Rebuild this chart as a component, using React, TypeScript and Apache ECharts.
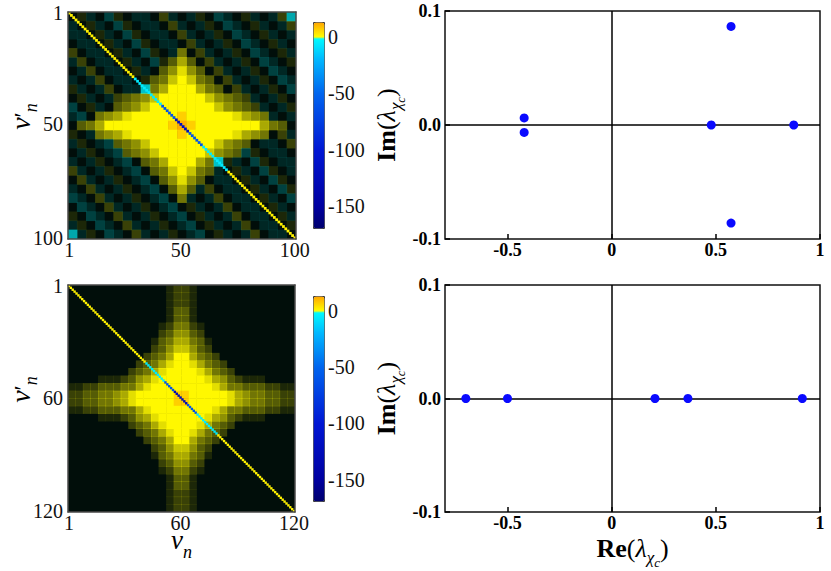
import React, { useEffect, useRef } from 'react';
import * as echarts from 'echarts';

const SERIF = 'Liberation Serif, DejaVu Serif, serif';

// ---------- Panel 1 (top-left heatmap, 100 x 100, read in 4x4 blocks) ----------
const P1_SIZE = 100;
const P1_TICKS = [1, 50, 100];
// '.' dark, '1'-'9' yellow of growing brightness, 'a'-'i' cyan of growing brightness,
// 'p' yellow-orange, 'o' orange
const P1_BLOCKS = [
  '.1a.b1.aa.2a.a1.ba.1a.a2f',
  'a.1a.b1.aa.2a.a1.ba.1a.a2',
  'aa.1a.b1.aa.2a.a1.ba.1a.a',
  '.aa.1a.b1.aa.2a.a1.ba.1a.',
  '2.aa.1a.b1.a4.2a.a1.ba.1a',
  'a2.aa.1a.b1363.2a.a1.ba.1',
  '.a2.aa.1a.35853.2a.a1.ba.',
  'a.a2.aa.13479743.2a.a1.ba',
  '1a.a2.aag46999643.2a.a1.b',
  '.1a.a234579999975432a.a1.',
  'b.1a.3457999999975432a.a1',
  'ab.456899999p999998654a.a',
  '.3469999999pop9999999643.',
  '1.a456899999p999998654.2a',
  'a1.ab345799999997543.aa.2',
  '.a1.ab3457999997543b1.aa.',
  'a.a1.ab.34699964g1a.b1.aa',
  '2a.a1.ab.3479743a.1a.b1.a',
  '.2a.a1.ab.35853.aa.1a.b1.',
  'a.2a.a1.ab.363a2.aa.1a.b1',
  'ba.2a.a1.ab.4a.a2.aa.1a.b',
  '.ba.2a.a1.ab.1a.a2.aa.1a.',
  '1.ba.2a.a1.ab.1a.a2.aa.1a',
  'a1.ba.2a.a1.ab.1a.a2.aa.1',
  'fa1.ba.2a.a1.ab.1a.a2.aa.',
];
// diagonal runs: [number of cells, value]
const P1_DIAGONAL: [number, number][] = [[29, 2], [12, -6], [6, -60], [6, -120], [6, -60], [11, -6], [30, 2]];

// ---------- Panel 2 (bottom-left heatmap, 120 x 120, read in 4x4 blocks) ----------
const P2_SIZE = 120;
const P2_TICKS = [1, 60, 120];
const P2_BLOCKS = [
  '.............1221.............',
  '.............1221.............',
  '.............1221.............',
  '.............1331.............',
  '.............1331.............',
  '............124421............',
  '............235532............',
  '...........13466431...........',
  '...........23577532...........',
  '..........2346996432..........',
  '.........234689986432.........',
  '........23468999986432........',
  '....1112356899999986532111....',
  '112233344689999999986443332211',
  '22334456899999pp99999865443322',
  '22334456899999pp99999865443322',
  '112233344689999999986443332211',
  '....1112356899999986532111....',
  '........23468999986432........',
  '.........234689986432.........',
  '..........2346996432..........',
  '...........23577532...........',
  '...........13466431...........',
  '............235532............',
  '............124421............',
  '.............1331.............',
  '.............1331.............',
  '.............1221.............',
  '.............1221.............',
  '.............1221.............',
];
const P2_DIAGONAL: [number, number][] = [[41, 2], [10, -6], [5, -60], [7, -130], [5, -60], [11, -6], [41, 2]];

// ---------- Panels 3 and 4 (eigenvalues) ----------
const P3_RE = [-0.42, -0.42, 0.478, 0.874, 0.573, 0.573];
const P3_IM = [0.0062, -0.0065, 0, 0, 0.0865, -0.086];
const P4_RE = [-0.7, -0.5, 0.208, 0.366, 0.915];
const P4_IM = [0, 0, 0, 0, 0];
const RE_TICKS = [-0.5, 0, 0.5, 1];
const IM_TICKS = [-0.1, 0, 0.1];

// ---------- Colour bar ----------
const CB_MIN = -169;
const CB_MAX = 13;
const CB_TICKS = [0, -50, -100, -150];
const CB_NEG: [number, string][] = [[-169, '#00006e'], [-150, '#0000a0'], [-100, '#0016d4'], [-50, '#0064ee'], [-20, '#00b6ff'], [-1, '#00fcff']];
const CB_POS: [number, string][] = [[0, '#ffff00'], [13, '#ffa500']];

function hex(h: string) {
  return [parseInt(h.slice(1, 3), 16), parseInt(h.slice(3, 5), 16), parseInt(h.slice(5, 7), 16)];
}
function interpStops(stops: [number, string][], v: number) {
  if (v <= stops[0][0]) return stops[0][1];
  for (let i = 0; i < stops.length - 1; i++) {
    const [v0, c0] = stops[i];
    const [v1, c1] = stops[i + 1];
    if (v <= v1) {
      const t = (v - v0) / (v1 - v0);
      const a = hex(c0), b = hex(c1);
      const m = a.map((x, k) => Math.round(x + (b[k] - x) * t));
      return `rgb(${m[0]},${m[1]},${m[2]})`;
    }
  }
  return stops[stops.length - 1][1];
}
const CB_COLORS: string[] = [];
for (let v = CB_MIN; v <= CB_MAX; v++) CB_COLORS.push(v < 0 ? interpStops(CB_NEG, v) : interpStops(CB_POS, v));

function decode(ch: string): [number, number] {
  if (ch >= '1' && ch <= '9') return [1, Number(ch)];
  if (ch >= 'a' && ch <= 'i') return [-3, ch.charCodeAt(0) - 96];
  if (ch === 'p') return [7, 9];
  if (ch === 'o') return [12, 9];
  return [1, 0];
}
function blockData(rows: string[]) {
  const out: number[][] = [];
  rows.forEach((row, r) => {
    for (let c = 0; c < row.length; c++) {
      const [v, l] = decode(row[c]);
      out.push([c, r, v, l]);
    }
  });
  return out;
}
function diagData(runs: [number, number][]) {
  const out: number[][] = [];
  let i = 0;
  runs.forEach(([n, v]) => {
    for (let k = 0; k < n; k++) {
      out.push([i, i, v]);
      i++;
    }
  });
  return out;
}

const LAMBDA_RICH = {
  b: { fontFamily: SERIF, fontSize: 26, fontWeight: 'bold', color: '#000', lineHeight: 28, padding: [0, 0, 8, 0], verticalAlign: 'bottom' },
  p: { fontFamily: SERIF, fontSize: 26, color: '#000', lineHeight: 28, padding: [0, 0, 8, 0], verticalAlign: 'bottom' },
  l: { fontFamily: SERIF, fontSize: 26, fontStyle: 'italic', color: '#000', lineHeight: 28, padding: [0, 0, 8, 0], verticalAlign: 'bottom' },
  s: { fontFamily: SERIF, fontSize: 17, fontStyle: 'italic', color: '#000', lineHeight: 18, padding: [0, 0, 3, 0], verticalAlign: 'bottom' },
  ss: { fontFamily: SERIF, fontSize: 13, fontStyle: 'italic', color: '#000', lineHeight: 14, verticalAlign: 'bottom' },
};
const NU_RICH = {
  nu: { fontFamily: SERIF, fontSize: 28, fontStyle: 'italic', color: '#000', lineHeight: 30, padding: [0, 0, 6, 18], verticalAlign: 'bottom' },
  nu0: { fontFamily: SERIF, fontSize: 27, fontStyle: 'italic', color: '#000', lineHeight: 24, padding: [0, 0, 8, 0], verticalAlign: 'bottom' },
  pr: { fontFamily: SERIF, fontSize: 24, color: '#000', lineHeight: 30, padding: [0, 0, 6, 0], verticalAlign: 'bottom' },
  n: { fontFamily: SERIF, fontSize: 18, fontStyle: 'italic', color: '#000', lineHeight: 20, verticalAlign: 'bottom' },
};
const LAMBDA_IM = '{b|Im}{p|(}{l|λ}{s|χ}{ss|c}{p|)}';
const LAMBDA_RE = '{b|Re}{p|(}{l|λ}{s|χ}{ss|c}{p|)}';

function heatAxes(gridIndex: number, size: number, blocks: number, ticks: number[], xName: boolean) {
  const fine = Array.from({ length: size }, (_, i) => String(i + 1));
  const coarse = Array.from({ length: blocks }, (_, i) => String(i));
  const idx = ticks.map((t) => t - 1);
  const frame = { show: true, lineStyle: { color: '#4a4a4a', width: 1.5 } };
  const label = { interval: (i: number) => idx.includes(i), fontFamily: SERIF, fontSize: 20, lineHeight: 14, color: '#111' };
  const x = [
    {
      type: 'category', gridIndex, data: fine, position: 'bottom', z: 10, axisLine: frame,
      axisTick: { show: false }, splitLine: { show: false }, axisLabel: { ...label, margin: 4 },
      name: xName ? '{nu0|ν}{n|n}' : '', nameLocation: 'middle', nameGap: 25, nameMoveOverlap: false,
      nameTextStyle: { rich: NU_RICH },
    },
    {
      type: 'category', gridIndex, data: coarse, position: 'top', z: 10, axisLine: frame,
      axisTick: { show: false }, axisLabel: { show: false }, splitLine: { show: false },
    },
  ];
  const y = [
    {
      type: 'category', gridIndex, data: fine, inverse: true, position: 'left', z: 10, axisLine: frame,
      axisTick: { show: false }, splitLine: { show: false }, axisLabel: { ...label, margin: 5 },
      name: '{nu|ν}{pr|′}{n|n}', nameLocation: 'middle', nameGap: 28, nameRotate: 90, nameMoveOverlap: false,
      nameTextStyle: { rich: NU_RICH },
    },
    {
      type: 'category', gridIndex, data: coarse, inverse: true, position: 'right', z: 10, axisLine: frame,
      axisTick: { show: false }, axisLabel: { show: false }, splitLine: { show: false },
    },
  ];
  return { x, y };
}

function scatterAxes(gridIndex: number, xName: boolean) {
  const tickStyle = { show: true, inside: true, length: 5, lineStyle: { color: '#000', width: 1.5 } };
  const lab = { fontFamily: SERIF, fontSize: 18, fontWeight: 'bold', color: '#000', lineHeight: 14 };
  const x = {
    type: 'value', gridIndex, min: -0.8, max: 1, axisLine: { show: false, onZero: false }, splitLine: { show: false },
    axisTick: { ...tickStyle, customValues: RE_TICKS },
    axisLabel: { ...lab, margin: 4, customValues: RE_TICKS, formatter: (v: number) => String(v) },
    name: xName ? LAMBDA_RE : '', nameLocation: 'middle', nameGap: 29, nameMoveOverlap: false,
    nameTextStyle: { rich: LAMBDA_RICH },
  };
  const y = {
    type: 'value', gridIndex, min: -0.1, max: 0.1, axisLine: { show: false, onZero: false }, splitLine: { show: false },
    axisTick: { ...tickStyle, customValues: IM_TICKS },
    axisLabel: { ...lab, margin: 4, customValues: IM_TICKS, formatter: (v: number) => v.toFixed(1) },
    name: LAMBDA_IM, nameLocation: 'middle', nameGap: 38, nameRotate: 90, nameMoveOverlap: false,
    nameTextStyle: { rich: LAMBDA_RICH },
  };
  return { x, y };
}

function cbAxes(gridIndex: number) {
  return {
    x: { type: 'value', gridIndex, show: false, min: 0, max: 1 },
    y: {
      type: 'value', gridIndex, min: CB_MIN, max: CB_MAX, position: 'right',
      axisLine: { show: false, onZero: false }, splitLine: { show: false },
      axisTick: { show: true, inside: true, length: 3, customValues: CB_TICKS, lineStyle: { color: '#222', width: 1 } },
      axisLabel: { customValues: CB_TICKS, fontFamily: SERIF, fontSize: 20, color: '#111', margin: 4 },
    },
  };
}

function buildOption() {
  const h1 = heatAxes(0, P1_SIZE, P1_BLOCKS.length, P1_TICKS, false);
  const h2 = heatAxes(1, P2_SIZE, P2_BLOCKS.length, P2_TICKS, true);
  const s3 = scatterAxes(2, false);
  const s4 = scatterAxes(3, true);
  const c1 = cbAxes(4);
  const c2 = cbAxes(5);
  const zeroLines = {
    silent: true, symbol: ['none', 'none'], z: 1, label: { show: false },
    lineStyle: { color: '#000', width: 1.5, type: 'solid' },
    data: [{ xAxis: 0 }, { yAxis: 0 }],
  };
  const heatBg = '#010e0a';
  return {
    animation: false,
    backgroundColor: '#fff',
    grid: [
      { left: 68, top: 12, width: 228, height: 227, show: true, backgroundColor: heatBg, borderWidth: 0, outerBoundsMode: 'none' },
      { left: 68, top: 285, width: 227, height: 227, show: true, backgroundColor: heatBg, borderWidth: 0, outerBoundsMode: 'none' },
      { left: 445, top: 11, width: 375, height: 228, show: true, borderColor: '#111', borderWidth: 1.5, outerBoundsMode: 'none' },
      { left: 445, top: 285, width: 375, height: 227, show: true, borderColor: '#111', borderWidth: 1.5, outerBoundsMode: 'none' },
      { left: 313, top: 22, width: 11, height: 206, outerBoundsMode: 'none' },
      { left: 313, top: 296, width: 11, height: 205, outerBoundsMode: 'none' },
    ],
    xAxis: [...h1.x, ...h2.x, s3.x, s4.x, c1.x, c2.x],
    yAxis: [...h1.y, ...h2.y, s3.y, s4.y, c1.y, c2.y],
    visualMap: [
      {
        type: 'continuous', min: CB_MIN, max: CB_MAX, dimension: 2, seriesIndex: [0, 1], calculable: false,
        show: true, left: 313, top: 22, itemWidth: 11, itemHeight: 206, padding: 0,
        borderColor: '#3a3a3a', borderWidth: 1, hoverLink: false, inRange: { color: CB_COLORS },
      },
      {
        type: 'continuous', min: CB_MIN, max: CB_MAX, dimension: 2, seriesIndex: [2, 3], calculable: false,
        show: true, left: 313, top: 296, itemWidth: 11, itemHeight: 205, padding: 0,
        borderColor: '#3a3a3a', borderWidth: 1, hoverLink: false, inRange: { color: CB_COLORS },
      },
      {
        type: 'continuous', min: 0, max: 9, dimension: 3, seriesIndex: [0, 2], show: false,
        inRange: { opacity: [0, 1] },
      },
    ],
    series: [
      { type: 'heatmap', xAxisIndex: 1, yAxisIndex: 1, data: blockData(P1_BLOCKS), progressive: 0, silent: true },
      { type: 'heatmap', xAxisIndex: 0, yAxisIndex: 0, data: diagData(P1_DIAGONAL), progressive: 0, silent: true },
      { type: 'heatmap', xAxisIndex: 3, yAxisIndex: 3, data: blockData(P2_BLOCKS), progressive: 0, silent: true },
      { type: 'heatmap', xAxisIndex: 2, yAxisIndex: 2, data: diagData(P2_DIAGONAL), progressive: 0, silent: true },
      {
        type: 'scatter', xAxisIndex: 4, yAxisIndex: 4, z: 3, symbolSize: 9, itemStyle: { color: '#0a0aff', opacity: 1 },
        data: P3_RE.map((x, i) => [x, P3_IM[i]]), markLine: zeroLines, silent: true,
      },
      {
        type: 'scatter', xAxisIndex: 5, yAxisIndex: 5, z: 3, symbolSize: 9, itemStyle: { color: '#0a0aff', opacity: 1 },
        data: P4_RE.map((x, i) => [x, P4_IM[i]]), markLine: zeroLines, silent: true,
      },
      { type: 'scatter', xAxisIndex: 6, yAxisIndex: 6, data: [], silent: true },
      { type: 'scatter', xAxisIndex: 7, yAxisIndex: 7, data: [], silent: true },
    ],
  };
}

export default function App() {
  const ref = useRef<HTMLDivElement>(null);
  useEffect(() => {
    document.body.style.margin = '0';
    const chart = echarts.init(ref.current as HTMLDivElement, undefined, { renderer: 'svg' });
    chart.setOption(buildOption() as any);
    return () => chart.dispose();
  }, []);
  return <div ref={ref} style={{ width: 831, height: 571 }} />;
}
